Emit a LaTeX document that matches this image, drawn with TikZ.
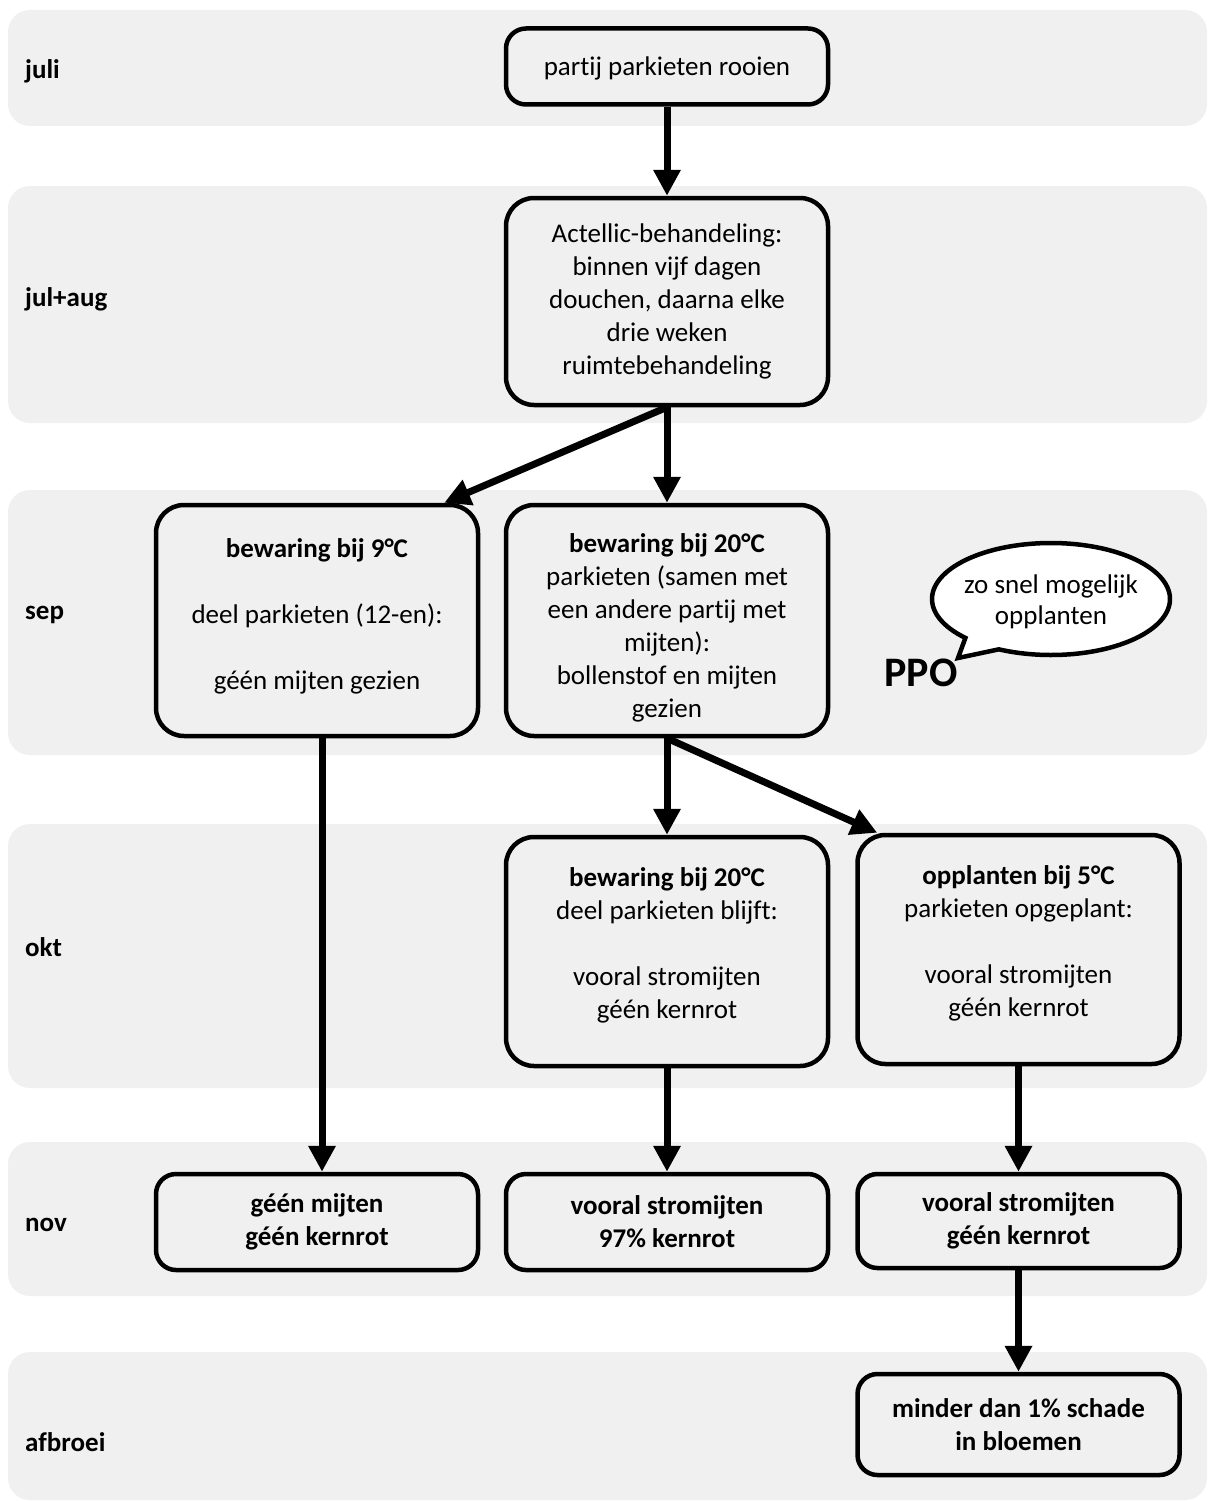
\documentclass[tikz,border=0pt]{standalone}
\usepackage{fontspec}
\setmainfont{Carlito}[Ligatures=NoCommon]
\usetikzlibrary{arrows.meta,calc}
\definecolor{bandgray}{HTML}{F0F0F0}
\begin{document}
\begin{tikzpicture}[x=1pt,y=-1pt,
  band/.style={fill=bandgray, rounded corners=22pt},
  month/.style={anchor=west, font=\fontsize{27}{33}\selectfont\bfseries, inner sep=0pt},
  box/.style={draw, line width=4.5pt, fill=bandgray, rounded corners=#1, align=center,
    font=\fontsize{27}{33}\selectfont, minimum width=322pt, inner sep=0pt},
  box/.default=28pt,
  flow/.style={line width=7pt, -{Triangle[width=26pt,length=26pt]}}]
\useasboundingbox (0,0) rectangle (1208,1501);
\fill[white] (0,0) rectangle (1208,1501);
% bands
\fill[band] (8,10) rectangle (1207,126);
\fill[band] (8,186) rectangle (1207,423);
\fill[band] (8,490) rectangle (1207,755);
\fill[band] (8,824) rectangle (1207,1088);
\fill[band] (8,1142) rectangle (1207,1296);
\fill[band] (8,1352) rectangle (1207,1500);
% month labels
\node[month] (m1) at (25,71) {juli};
\node[month] (m2) at (25,299) {jul+aug};
\node[month] (m3) at (25,615) {sep};
\node[month] (m4) at (25,947) {okt};
\node[month] (m5) at (25,1225) {nov};
\node[month] (m6) at (25,1442) {afbroei};
% boxes
\node[box=20pt, minimum height=76pt] (b1) at (667,66.5) {\rule{0pt}{22pt}partij parkieten rooien};
\node[box, minimum height=207pt] (b2) at (667,301.5) {Actellic-behandeling:\\ binnen vijf dagen\\ douchen, daarna elke\\ drie weken\\ ruimtebehandeling};
\node[box, minimum height=231pt] (b3) at (317,620.5) {\textbf{bewaring bij 9°C}\\[33pt] deel parkieten (12-en):\\[33pt] géén mijten gezien\\[-20pt]~};
\node[box, minimum height=231pt] (b4) at (667,620.5) {\rule{0pt}{33pt}\textbf{bewaring bij 20°C}\\ parkieten (samen met\\ een andere partij met\\ mijten):\\ bollenstof en mijten\\ gezien};
\node[box, minimum height=229pt] (b5) at (667,951.5) {\textbf{bewaring bij 20°C}\\ deel parkieten blijft:\\ ~\\ vooral stromijten\\ géén kernrot\\[-16pt]~};
\node[box, minimum height=229pt] (b6) at (1018.5,949.5) {\textbf{opplanten bij 5°C}\\ parkieten opgeplant:\\ ~\\ vooral stromijten\\ géén kernrot\\[-16pt]~};
\node[box=20pt, minimum height=96pt] (b7) at (317,1222) {\textbf{géén mijten}\\ \textbf{géén kernrot}};
\node[box=20pt, minimum height=96pt] (b8) at (667,1222) {\textbf{vooral stromijten}\\ \textbf{97\% kernrot}};
\node[box=20pt, minimum height=94pt] (b9) at (1018.5,1221) {\textbf{vooral stromijten}\\ \textbf{géén kernrot}};
\node[box=20pt, minimum height=101pt] (b10) at (1018.5,1424.5) {\textbf{minder dan 1\% schade}\\ \textbf{in bloemen}};
% connectors
\draw[flow] (b1.south) -- (b2.north);
\draw[flow] (b2.south) -- ($(b3.north east)+(-36,0)$);
\draw[flow] (b2.south) -- (b4.north);
\draw[flow] ($(b3.south)+(5,0)$) -- ($(b7.north)+(5,0)$);
\draw[flow] (b4.south) -- (b5.north);
\draw[flow] (b4.south) -- ($(b6.north west)+(22,0)$);
\draw[flow] (b5.south) -- (b8.north);
\draw[flow] (b6.south) -- (b9.north);
\draw[flow] (b9.south) -- (b10.north);
% speech bubble
\coordinate (tip) at (958,658);
\filldraw[fill=white, line width=4.5pt, line join=miter]
  plot[domain=136:476, samples=120, smooth] ({1051+119*cos(\x)},{599+56*sin(\x)}) -- (tip) -- cycle;
\node[font=\fontsize{27}{31}\selectfont, align=center] (bubble) at (1051,602) {zo snel mogelijk\\ opplanten};
\node[font=\fontsize{42}{44}\selectfont\bfseries, inner sep=0pt] (ppo) at (921,673) {PPO};
\end{tikzpicture}
\end{document}
